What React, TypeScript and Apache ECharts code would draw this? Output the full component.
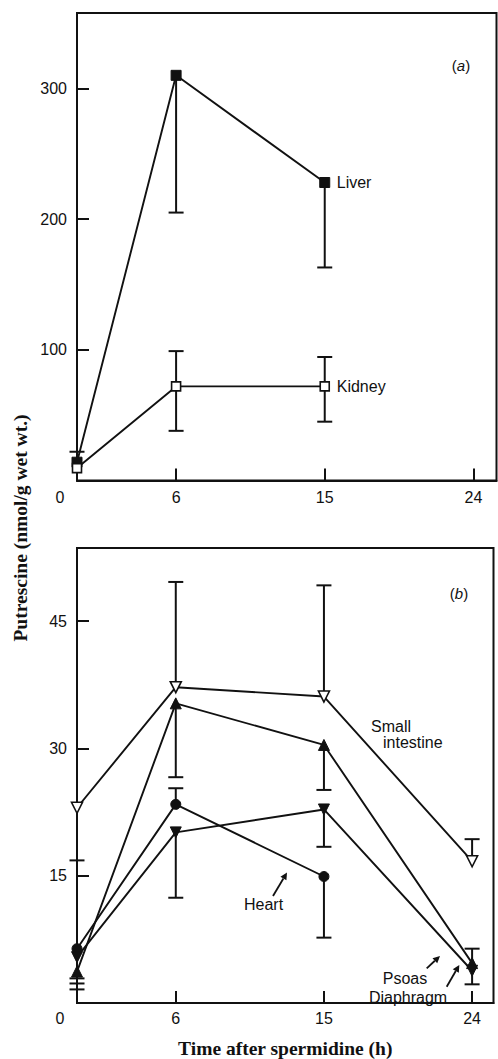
import React, { useEffect, useRef } from 'react';
import * as echarts from 'echarts';

// ---------- Panel (a) data ----------
const timesTop = [0, 6, 15];
const liverValues = [14, 310, 228];
const kidneyValues = [9.5, 72, 72];
// [time, mean, low, high]
const liverErr = [[0, 14, 14, 22], [6, 310, 205, 310], [15, 228, 163, 228]];
const kidneyErr = [[6, 72, 38, 99], [15, 72, 45, 94.5]];
const topYTicks = [100, 200, 300];
const topXTicks = [6, 15, 24];

// ---------- Panel (b) data ----------
const timesBottom = [0, 6, 15, 24];
const heartTimes = [0, 6, 15];
const smallIntestineValues = [23, 37.2, 36.1, 16.7];
const psoasValues = [3.7, 35.3, 30.4, 4.7];
const heartValues = [6.4, 23.4, 14.9];
const diaphragmValues = [5.4, 20.1, 22.8, 3.8];
const smallIntestineErr = [[0, 23, 16.8, 23], [6, 37.2, 37.2, 49.6], [15, 36.1, 36.1, 49.2], [24, 16.7, 16.7, 19.3]];
const psoasErr = [[0, 3.7, 1.6, 3.7], [6, 35.3, 26.6, 35.3], [15, 30.4, 25.1, 30.4], [24, 4.7, 4.7, 6.4]];
const heartErr = [[0, 6.4, 2.9, 6.4], [6, 23.4, 23.4, 25.3], [15, 14.9, 7.7, 14.9]];
const diaphragmErr = [[0, 5.4, 2.3, 5.4], [6, 20.1, 12.4, 20.1], [15, 22.8, 18.4, 22.8], [24, 3.8, 2.2, 3.8]];
const bottomYTicks = [15, 30, 45];
const bottomXTicks = [6, 15, 24];

const INK = '#111';
const SANS = '"Liberation Sans", Arial, Helvetica, sans-serif';
const SERIF = '"Liberation Serif", "Times New Roman", serif';

function errorRender(params: any, api: any) {
  const x = api.value(0);
  const mean = api.value(1);
  const lo = api.value(2);
  const hi = api.value(3);
  const pLo = api.coord([x, lo]);
  const pHi = api.coord([x, hi]);
  const cap = 7.5;
  const style = { stroke: INK, lineWidth: 2 };
  const children: any[] = [
    { type: 'line', shape: { x1: pLo[0], y1: pLo[1], x2: pHi[0], y2: pHi[1] }, style },
  ];
  if (lo < mean) {
    children.push({ type: 'line', shape: { x1: pLo[0] - cap, y1: pLo[1], x2: pLo[0] + cap, y2: pLo[1] }, style });
  }
  if (hi > mean) {
    children.push({ type: 'line', shape: { x1: pHi[0] - cap, y1: pHi[1], x2: pHi[0] + cap, y2: pHi[1] }, style });
  }
  return { type: 'group', children };
}

function errSeries(name: string, data: number[][], gi: number) {
  return {
    name: name + ' SEM',
    type: 'custom',
    xAxisIndex: gi,
    yAxisIndex: gi,
    data,
    encode: { x: 0, y: [1, 2, 3] },
    renderItem: errorRender,
    clip: false,
    z: 2,
    silent: true,
  };
}

function lineSeries(name: string, times: number[], values: number[], gi: number, symbol: string, filled: boolean, rotate = 0, extra: any = {}) {
  return {
    name,
    type: 'line',
    xAxisIndex: gi,
    yAxisIndex: gi,
    data: times.map((t, i) => [t, values[i]]),
    symbol,
    symbolSize: symbol === 'rect' ? 10 : 11,
    symbolRotate: rotate,
    showAllSymbol: true,
    clip: false,
    lineStyle: { color: INK, width: 1.9 },
    itemStyle: filled
      ? { color: INK, borderColor: INK, borderWidth: 1 }
      : { color: '#fff', borderColor: INK, borderWidth: 1.6 },
    z: 3,
    ...extra,
  };
}

function arrow(x1: number, y1: number, x2: number, y2: number) {
  const dx = x2 - x1;
  const dy = y2 - y1;
  const len = Math.sqrt(dx * dx + dy * dy);
  const ux = dx / len;
  const uy = dy / len;
  const hl = 7;
  const hw = 3.5;
  const bx = x2 - ux * hl;
  const by = y2 - uy * hl;
  return [
    { type: 'line', shape: { x1, y1, x2: bx, y2: by }, style: { stroke: INK, lineWidth: 1.8 } },
    {
      type: 'polygon',
      shape: { points: [[x2, y2], [bx - uy * hw, by + ux * hw], [bx + uy * hw, by - ux * hw]] },
      style: { fill: INK },
    },
  ];
}

function xAxisCfg(gi: number, max: number, margin: number, name?: string) {
  return {
    gridIndex: gi,
    type: 'value',
    min: 0,
    max,
    interval: 3,
    name,
    nameLocation: 'middle',
    nameGap: 35,
    nameTextStyle: { fontFamily: SERIF, fontSize: 19.5, fontWeight: 'bold', color: INK },
    axisLine: { show: true, onZero: false, lineStyle: { color: INK, width: 2 } },
    axisTick: { show: true, inside: true, length: 12, customValues: gi === 0 ? topXTicks : bottomXTicks, lineStyle: { color: INK, width: 2 } },
    axisLabel: {
      customValues: [0, ...(gi === 0 ? topXTicks : bottomXTicks)],
      margin,
      color: INK,
      fontSize: 16,
      fontFamily: SANS,
      formatter: (v: number) => (v === 0 ? '{z|0}' : String(v)),
      rich: { z: { padding: [0, 34, 0, 0], fontSize: 16, fontFamily: SANS, color: INK } },
    },
    splitLine: { show: false },
  };
}

function yAxisCfg(gi: number, max: number, interval: number, ticks: number[]) {
  return {
    gridIndex: gi,
    type: 'value',
    min: 0,
    max,
    interval,
    axisLine: { show: true, onZero: false, lineStyle: { color: INK, width: 2 } },
    axisTick: { show: true, inside: true, length: 12, customValues: ticks, lineStyle: { color: INK, width: 2 } },
    axisLabel: { customValues: ticks, margin: 10, color: INK, fontSize: 16, fontFamily: SANS },
    splitLine: { show: false },
  };
}

export default function App() {
  const ref = useRef<HTMLDivElement>(null);

  useEffect(() => {
    if (!ref.current) return;
    const chart = echarts.init(ref.current, undefined, { renderer: 'svg' });
    const labelStyle = { fontFamily: SANS, fontSize: 16, fill: INK };
    chart.setOption({
      animation: false,
      backgroundColor: '#fff',
      grid: [
        { left: 77, right: 1.5, top: 13, bottom: 578.5, show: true, borderColor: INK, borderWidth: 2, backgroundColor: 'transparent' },
        { left: 77, right: 4.5, top: 548, bottom: 44.5, show: true, borderColor: INK, borderWidth: 2, backgroundColor: 'transparent' },
      ],
      xAxis: [
        xAxisCfg(0, 25.4, 9),
        xAxisCfg(1, 25.3, 7, 'Time after spermidine (h)'),
      ],
      yAxis: [
        yAxisCfg(0, 357.7, 100, topYTicks),
        yAxisCfg(1, 53.6, 15, bottomYTicks),
      ],
      series: [
        errSeries('Liver', liverErr, 0),
        errSeries('Kidney', kidneyErr, 0),
        lineSeries('Liver', timesTop, liverValues, 0, 'rect', true, 0, {
          endLabel: { show: true, formatter: 'Liver', distance: 12, color: INK, fontSize: 16, fontFamily: SANS },
        }),
        lineSeries('Kidney', timesTop, kidneyValues, 0, 'rect', false, 0, {
          symbolSize: 9,
          endLabel: { show: true, formatter: 'Kidney', distance: 12, color: INK, fontSize: 16, fontFamily: SANS },
        }),
        errSeries('Small intestine', smallIntestineErr, 1),
        errSeries('Psoas', psoasErr, 1),
        errSeries('Heart', heartErr, 1),
        errSeries('Diaphragm', diaphragmErr, 1),
        lineSeries('Small intestine', timesBottom, smallIntestineValues, 1, 'triangle', false, 180),
        lineSeries('Psoas', timesBottom, psoasValues, 1, 'triangle', true, 0),
        lineSeries('Heart', heartTimes, heartValues, 1, 'circle', true, 0, { symbolSize: 10 }),
        lineSeries('Diaphragm', timesBottom, diaphragmValues, 1, 'triangle', true, 180),
      ],
      graphic: [
        {
          type: 'text', x: 20, y: 528, rotation: Math.PI / 2,
          style: { text: 'Putrescine (nmol/g wet wt.)', font: `bold 19.5px ${SERIF}`, fill: INK, align: 'center', verticalAlign: 'middle' },
        },
        {
          type: 'text', x: 461, y: 65,
          style: { text: '({i|a})', font: `15px ${SANS}`, fill: INK, align: 'center', verticalAlign: 'middle', rich: { i: { fontStyle: 'italic', fontSize: 15, fontFamily: SANS } } },
        },
        {
          type: 'text', x: 459, y: 593,
          style: { text: '({i|b})', font: `15px ${SANS}`, fill: INK, align: 'center', verticalAlign: 'middle', rich: { i: { fontStyle: 'italic', fontSize: 15, fontFamily: SANS } } },
        },
        { type: 'text', x: 371, y: 726, style: { ...labelStyle, text: 'Small', verticalAlign: 'middle' } },
        { type: 'text', x: 383, y: 742, style: { ...labelStyle, text: 'intestine', verticalAlign: 'middle' } },
        { type: 'text', x: 244, y: 904, style: { ...labelStyle, text: 'Heart', verticalAlign: 'middle' } },
        { type: 'text', x: 405, y: 978, style: { ...labelStyle, text: 'Psoas', align: 'center', verticalAlign: 'middle' } },
        { type: 'text', x: 408, y: 997, style: { ...labelStyle, text: 'Diaphragm', align: 'center', verticalAlign: 'middle' } },
        ...arrow(273, 896, 287, 872.5),
        ...arrow(426.7, 968.3, 440, 956),
        ...arrow(446.7, 986.7, 459.3, 965),
      ],
    });
    return () => chart.dispose();
  }, []);

  return (
    <div
      ref={ref}
      style={{ position: 'fixed', left: 0, top: 0, width: 498, height: 1059, background: '#fff' }}
    />
  );
}
